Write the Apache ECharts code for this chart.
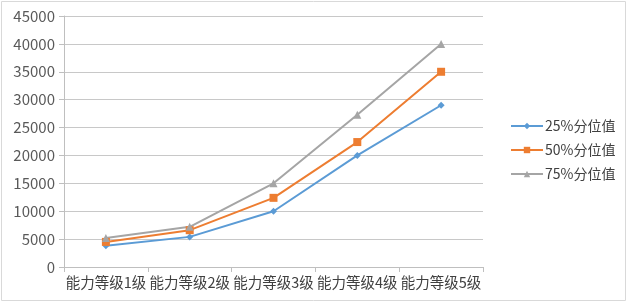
<!DOCTYPE html>
<html><head><meta charset="utf-8">
<script src="https://cdn.jsdelivr.net/npm/echarts@6/dist/echarts.min.js"></script>
<style>html,body{margin:0;padding:0;background:#fff}#c{width:628px;height:303px}</style>
</head><body><div id="c"></div>
<script>
var categories = ['能力等级1级','能力等级2级','能力等级3级','能力等级4级','能力等级5级'];
var p25 = [3800, 5400, 10000, 20000, 29000];
var p50 = [4500, 6600, 12400, 22400, 35000];
var p75 = [5200, 7200, 15000, 27300, 40000];
var seriesNames = ['25%分位值','50%分位值','75%分位值'];

var chart = echarts.init(document.getElementById('c'));
var font = '"Noto Sans CJK SC", "Noto Sans", sans-serif';
function mk(name, data, color, symbol, size){
  return {name:name, type:'line', data:data, symbol:symbol, symbolSize:size, showSymbol:true,
    lineStyle:{color:color, width:2}, itemStyle:{color:color}};
}
chart.setOption({
  animation:false,
  textStyle:{fontFamily:font},
  graphic:[{type:'rect', shape:{x:1.5,y:1.5,width:624,height:299}, style:{fill:null, stroke:'#d9d9d9', lineWidth:1}}],
  grid:{left:64, right:145, top:16, bottom:36},
  legend:{orient:'vertical', left:505, top:114, itemGap:10, itemWidth:32, itemHeight:8,
    textStyle:{fontSize:14, color:'#404040', fontFamily:font, padding:[0,0,0,-3]}, data:seriesNames},
  xAxis:{type:'category', data:categories, boundaryGap:true,
    axisLine:{lineStyle:{color:'#bfbfbf'}}, axisTick:{show:true, length:5, lineStyle:{color:'#bfbfbf'}},
    axisLabel:{fontSize:14.5, color:'#404040', margin:8, interval:0}},
  yAxis:{type:'value', min:0, max:45000, interval:5000,
    axisLine:{show:true, lineStyle:{color:'#bfbfbf'}}, axisTick:{show:true, length:5, lineStyle:{color:'#bfbfbf'}},
    splitLine:{lineStyle:{color:'#c8c8c8'}},
    axisLabel:{fontSize:15, color:'#595959', margin:9, formatter:function(v){return String(v);}}},
  series:[
    mk(seriesNames[0], p25, '#5B9BD5', 'diamond', 7),
    mk(seriesNames[1], p50, '#ED7D31', 'rect', 8),
    mk(seriesNames[2], p75, '#A5A5A5', 'triangle', 8)
  ]
});
</script></body></html>
